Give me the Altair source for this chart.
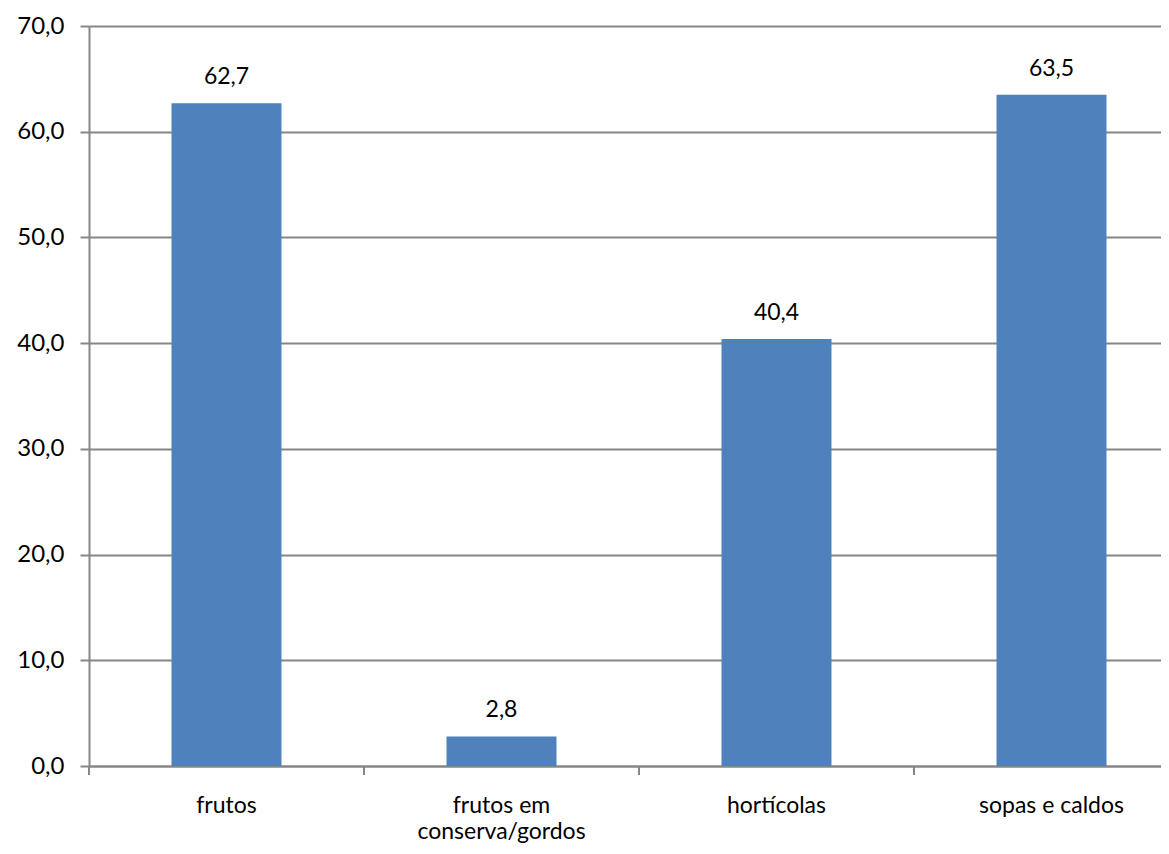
import altair as alt
import pandas as pd

categories = ["frutos", "frutos em conserva/gordos", "hortícolas", "sopas e caldos"]
values = [62.7, 2.8, 40.4, 63.5]
y_ticks = [0, 10, 20, 30, 40, 50, 60, 70]

df = pd.DataFrame({"cat": categories, "val": values})

FONT = "Lato"
GRAY = "#868686"

x_scale = alt.Scale(domain=categories, range=[0, 1100], paddingInner=0.6, paddingOuter=0.3)
y_scale = alt.Scale(domain=[0, 70], nice=False)

base = alt.Chart(df)

bars = base.mark_bar(color="#4F81BD").encode(
    x=alt.X(
        "cat:N",
        scale=x_scale,
        sort=categories,
        axis=alt.Axis(
            title=None,
            labelAngle=0,
            ticks=False,
            domain=True,
            domainColor=GRAY,
            domainWidth=2,
            labelFont=FONT,
            labelFontSize=23,
            labelColor="black",
            labelPadding=46,
            labelLineHeight=26,
            labelBaseline="alphabetic",
            labelExpr="datum.value == 'frutos em conserva/gordos' ? ['frutos em', 'conserva/gordos'] : datum.value",
        ),
    ),
    y=alt.Y(
        "val:Q",
        scale=y_scale,
        axis=alt.Axis(
            title=None,
            values=y_ticks,
            grid=True,
            gridColor=GRAY,
            gridWidth=2,
            gridOpacity=1,
            domainColor=GRAY,
            domainWidth=2,
            tickColor=GRAY,
            tickSize=9,
            tickWidth=2,
            labelFont=FONT,
            labelFontSize=24,
            labelColor="black",
            labelPadding=16,
            labelExpr="replace(format(datum.value, '.1f'), '.', ',')",
        ),
    ),
)

text = base.mark_text(font=FONT, fontSize=23, color="black", baseline="alphabetic", dy=-19).encode(
    x=alt.X("cat:N", scale=x_scale, sort=categories),
    y=alt.Y("val:Q", scale=y_scale),
    text=alt.Text("label:N"),
).transform_calculate(label="replace(format(datum.val, '.1f'), '.', ',')")

ticks = base.mark_rule(color=GRAY, strokeWidth=2, xOffset=-82.5).encode(
    x=alt.X("cat:N", scale=x_scale, sort=categories, bandPosition=0),
    y=alt.value(740),
    y2=alt.value(749),
)

chart = (
    alt.layer(bars, ticks, text)
    .properties(
        width=1072,
        height=740,
        padding={"left": 81, "top": 18, "right": 0, "bottom": 79},
        autosize=alt.AutoSizeParams(type="none"),
    )
    .configure_view(stroke=None)
)

chart.save("out.html", embed_options={"renderer": "svg", "actions": False})
